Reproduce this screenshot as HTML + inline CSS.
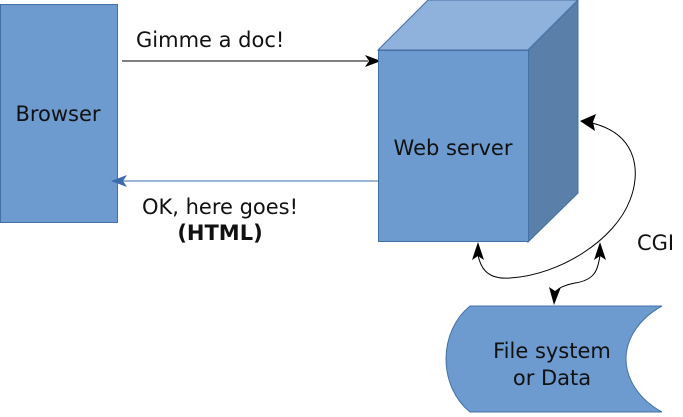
<!DOCTYPE html>
<html><head><style>html,body{margin:0;padding:0;background:#fff}svg{display:block}</style></head>
<body>
<svg width="683" height="417" viewBox="0 0 683 417" xmlns="http://www.w3.org/2000/svg" font-family="'DejaVu Sans', 'Liberation Sans', sans-serif" font-size="21">
<rect x="0.5" y="4.5" width="117" height="218" fill="#6d9bcf" stroke="#4470a8"/>
<text x="58" y="121" text-anchor="middle" fill="#111">Browser</text>
<line x1="122" y1="61" x2="368" y2="61" stroke="#000" stroke-width="1"/>
<polygon points="381,61 365,55 369,61 365,67" fill="#000"/>
<text x="136" y="47" fill="#111">Gimme a doc!</text>
<line x1="378" y1="181" x2="122" y2="181" stroke="#3a6bad" stroke-width="1"/>
<polygon points="111,181 127,175 123,181 127,187" fill="#3a6bad"/>
<text x="220" y="214" text-anchor="middle" fill="#111">OK, here goes!</text>
<text x="220" y="240" text-anchor="middle" font-weight="bold" fill="#111">(HTML)</text>
<polygon points="378,50 428,0 578,0 528,50" fill="#8fb2dd" stroke="#4470a8"/>
<polygon points="528,50 578,0 578,193 528,242" fill="#5a7fa8" stroke="#4470a8"/>
<rect x="378.5" y="50.5" width="150" height="191" fill="#6d9bcf" stroke="#4470a8"/>
<text x="453" y="155" text-anchor="middle" fill="#111">Web server</text>
<path d="M470,306 L662,306 C640,318 626,338 626,359 C626,380 640,400 662,412 L470,412 C455,400 446,380 446,359 C446,338 455,318 470,306 Z" fill="#6d9bcf" stroke="#4470a8"/>
<text x="552" y="358" text-anchor="middle" fill="#111">File system</text>
<text x="552" y="385" text-anchor="middle" fill="#111">or Data</text>
<text x="637" y="250" fill="#111">CGI</text>
<path d="M592,123 C640,135 640,175 630,200 C615,240 560,275 510,278 C485,280 480,265 478,255" fill="none" stroke="#000"/>
<polygon points="580,121 596,114 593,122 595,131" fill="#000"/>
<polygon points="478,242 472,260 478,256 484,260" fill="#000"/>
<path d="M600,255 C598,270 595,280 575,283 C560,286 557,290 556,292" fill="none" stroke="#000"/>
<polygon points="600,242 594,260 600,256 606,260" fill="#000"/>
<polygon points="554,305 549,287 555,291 561,287" fill="#000"/>
</svg>
</body></html>
